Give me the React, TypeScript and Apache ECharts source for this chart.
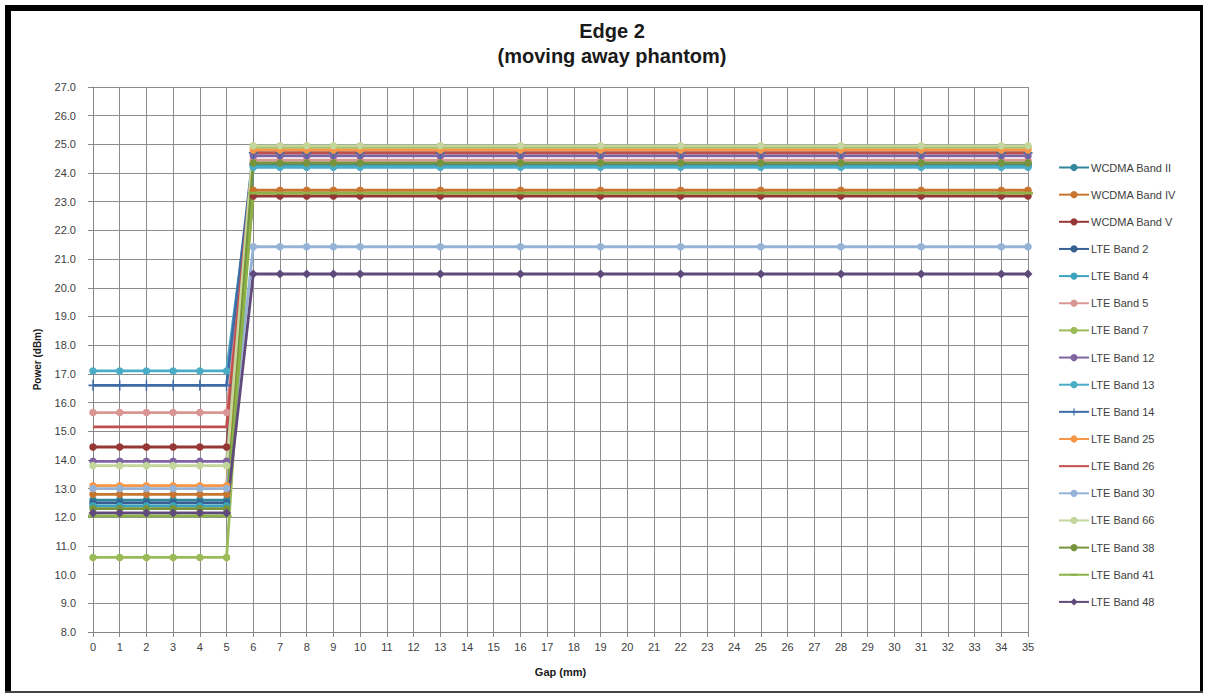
import React, { useEffect, useRef } from "react";
import * as echarts from "echarts";

const gaps = [0, 1, 2, 3, 4, 5, 6, 7, 8, 9, 10, 13, 16, 19, 22, 25, 28, 31, 34, 35];
const yTicks = { min: 8, max: 27, step: 1 };

const wcdmaII = [12.6, 12.6, 12.6, 12.6, 12.6, 12.6, 24.3, 24.3, 24.3, 24.3, 24.3, 24.3, 24.3, 24.3, 24.3, 24.3, 24.3, 24.3, 24.3, 24.3];
const wcdmaIV = [12.8, 12.8, 12.8, 12.8, 12.8, 12.8, 23.4, 23.4, 23.4, 23.4, 23.4, 23.4, 23.4, 23.4, 23.4, 23.4, 23.4, 23.4, 23.4, 23.4];
const wcdmaV = [14.45, 14.45, 14.45, 14.45, 14.45, 14.45, 23.2, 23.2, 23.2, 23.2, 23.2, 23.2, 23.2, 23.2, 23.2, 23.2, 23.2, 23.2, 23.2, 23.2];
const lte2 = [12.5, 12.5, 12.5, 12.5, 12.5, 12.5, 24.3, 24.3, 24.3, 24.3, 24.3, 24.3, 24.3, 24.3, 24.3, 24.3, 24.3, 24.3, 24.3, 24.3];
const lte4 = [12.4, 12.4, 12.4, 12.4, 12.4, 12.4, 24.25, 24.25, 24.25, 24.25, 24.25, 24.25, 24.25, 24.25, 24.25, 24.25, 24.25, 24.25, 24.25, 24.25];
const lte5 = [15.65, 15.65, 15.65, 15.65, 15.65, 15.65, 24.45, 24.45, 24.45, 24.45, 24.45, 24.45, 24.45, 24.45, 24.45, 24.45, 24.45, 24.45, 24.45, 24.45];
const lte7 = [10.6, 10.6, 10.6, 10.6, 10.6, 10.6, 24.9, 24.9, 24.9, 24.9, 24.9, 24.9, 24.9, 24.9, 24.9, 24.9, 24.9, 24.9, 24.9, 24.9];
const lte12 = [13.95, 13.95, 13.95, 13.95, 13.95, 13.95, 24.6, 24.6, 24.6, 24.6, 24.6, 24.6, 24.6, 24.6, 24.6, 24.6, 24.6, 24.6, 24.6, 24.6];
const lte13 = [17.1, 17.1, 17.1, 17.1, 17.1, 17.1, 24.2, 24.2, 24.2, 24.2, 24.2, 24.2, 24.2, 24.2, 24.2, 24.2, 24.2, 24.2, 24.2, 24.2];
const lte14 = [16.6, 16.6, 16.6, 16.6, 16.6, 16.6, 24.7, 24.7, 24.7, 24.7, 24.7, 24.7, 24.7, 24.7, 24.7, 24.7, 24.7, 24.7, 24.7, 24.7];
const lte25 = [13.1, 13.1, 13.1, 13.1, 13.1, 13.1, 24.8, 24.8, 24.8, 24.8, 24.8, 24.8, 24.8, 24.8, 24.8, 24.8, 24.8, 24.8, 24.8, 24.8];
const lte26 = [15.15, 15.15, 15.15, 15.15, 15.15, 15.15, 24.7, 24.7, 24.7, 24.7, 24.7, 24.7, 24.7, 24.7, 24.7, 24.7, 24.7, 24.7, 24.7, 24.7];
const lte30 = [13.0, 13.0, 13.0, 13.0, 13.0, 13.0, 21.43, 21.43, 21.43, 21.43, 21.43, 21.43, 21.43, 21.43, 21.43, 21.43, 21.43, 21.43, 21.43, 21.43];
const lte66 = [13.8, 13.8, 13.8, 13.8, 13.8, 13.8, 24.95, 24.95, 24.95, 24.95, 24.95, 24.95, 24.95, 24.95, 24.95, 24.95, 24.95, 24.95, 24.95, 24.95];
const lte38 = [12.3, 12.3, 12.3, 12.3, 12.3, 12.3, 24.35, 24.35, 24.35, 24.35, 24.35, 24.35, 24.35, 24.35, 24.35, 24.35, 24.35, 24.35, 24.35, 24.35];
const lte41 = [12.05, 12.05, 12.05, 12.05, 12.05, 12.05, 23.3, 23.3, 23.3, 23.3, 23.3, 23.3, 23.3, 23.3, 23.3, 23.3, 23.3, 23.3, 23.3, 23.3];
const lte48 = [12.15, 12.15, 12.15, 12.15, 12.15, 12.15, 20.48, 20.48, 20.48, 20.48, 20.48, 20.48, 20.48, 20.48, 20.48, 20.48, 20.48, 20.48, 20.48, 20.48];

const seriesNames = [
  "WCDMA Band II", "WCDMA Band IV", "WCDMA Band V", "LTE Band 2", "LTE Band 4", "LTE Band 5",
  "LTE Band 7", "LTE Band 12", "LTE Band 13", "LTE Band 14", "LTE Band 25", "LTE Band 26",
  "LTE Band 30", "LTE Band 66", "LTE Band 38", "LTE Band 41", "LTE Band 48",
];
const seriesValues = [wcdmaII, wcdmaIV, wcdmaV, lte2, lte4, lte5, lte7, lte12, lte13, lte14, lte25, lte26, lte30, lte66, lte38, lte41, lte48];
const seriesColors = [
  "#31859C", "#C8762F", "#953735", "#376092", "#3AA3BE", "#D99694",
  "#9BBB59", "#8064A2", "#4BACC6", "#3F6CA6", "#F79646", "#C0504D",
  "#95B3D7", "#C3D69B", "#77933C", "#8DB247", "#604A7B",
];
const PLUS = "path://M4.2,0H5.8V4.2H10V5.8H5.8V10H4.2V5.8H0V4.2H4.2Z";
const DASH = "path://M0,3.6H10V6.4H0Z M0,0H0.01V0.01H0Z M9.99,9.99H10V10H9.99Z";
const seriesSymbols = [
  "circle", "circle", "circle", "circle", "circle", "circle",
  "circle", "circle", "circle", PLUS, "circle", "none",
  "circle", "circle", "circle", DASH, "diamond",
];

export default function App() {
  const ref = useRef<HTMLDivElement>(null);
  useEffect(() => {
    if (!ref.current) return;
    const chart = echarts.init(ref.current, null, { renderer: "svg" });
    const font = "'Liberation Sans', Arial, sans-serif";
    const series = seriesNames.map((name, i) => {
      const sym = seriesSymbols[i];
      let size: any = 7.5;
      if (sym === PLUS) size = [9, 11];
      if (sym === DASH) size = 10;
      if (sym === "diamond") size = 9;
      return {
        name,
        type: "line",
        data: gaps.map((g, j) => [g, seriesValues[i][j]]),
        symbol: sym,
        symbolSize: size,
        showSymbol: sym !== "none",
        lineStyle: { width: 2.8, color: seriesColors[i] },
        itemStyle: { color: seriesColors[i] },
        emphasis: { disabled: true },
      };
    });
    const legendData = seriesNames.map((name, i) =>
      seriesSymbols[i] === "none" ? { name, itemStyle: { color: "rgba(0,0,0,0)" } } : { name }
    );
    chart.setOption({
      animation: false,
      backgroundColor: "#ffffff",
      color: seriesColors,
      title: {
        text: "Edge 2\n(moving away phantom)",
        left: 607,
        textAlign: "center",
        top: 13,
        textStyle: { fontFamily: font, fontSize: 20, fontWeight: "bold", color: "#1a1a1a", lineHeight: 25 },
      },
      legend: {
        orient: "vertical",
        left: 1058,
        top: 162,
        padding: 0,
        itemGap: 16.15,
        itemWidth: 30,
        itemHeight: 9,
        textStyle: { fontFamily: font, fontSize: 11, color: "#404040", padding: [0, 0, 0, -3] },
        data: legendData,
      },
      grid: { left: 93, right: 178, top: 87, bottom: 65 },
      xAxis: {
        type: "value",
        min: 0,
        max: 35,
        interval: 1,
        name: "Gap (mm)",
        nameLocation: "middle",
        nameGap: 34,
        nameTextStyle: { fontFamily: font, fontSize: 11, fontWeight: "bold", color: "#1a1a1a" },
        axisLine: { show: true, lineStyle: { color: "#868686", width: 1 } },
        axisTick: { show: true, length: 5, lineStyle: { color: "#868686" } },
        axisLabel: { fontFamily: font, fontSize: 11, color: "#404040", margin: 9 },
        splitLine: { show: true, lineStyle: { color: "#8c8c8c", width: 1 } },
      },
      yAxis: {
        type: "value",
        min: yTicks.min,
        max: yTicks.max,
        interval: yTicks.step,
        name: "Power (dBm)",
        nameLocation: "middle",
        nameGap: 51,
        nameRotate: 90,
        nameTextStyle: { fontFamily: font, fontSize: 10, fontWeight: "bold", color: "#1a1a1a" },
        axisLine: { show: true, lineStyle: { color: "#868686", width: 1 } },
        axisTick: { show: true, length: 5, lineStyle: { color: "#868686" } },
        axisLabel: { fontFamily: font, fontSize: 11, color: "#404040", margin: 17, formatter: (v: number) => v.toFixed(1) },
        splitLine: { show: true, lineStyle: { color: "#8c8c8c", width: 1 } },
      },
      graphic: [
        { type: "rect", shape: { x: 5, y: 5, width: 6, height: 688 }, style: { fill: "#000" } },
        { type: "rect", shape: { x: 5, y: 5, width: 1198, height: 6 }, style: { fill: "#000" } },
        { type: "rect", shape: { x: 1200, y: 5, width: 3, height: 688 }, style: { fill: "#000" } },
        { type: "rect", shape: { x: 5, y: 691, width: 1198, height: 2 }, style: { fill: "#444" } },
      ],
      series,
    });
    return () => chart.dispose();
  }, []);
  return <div ref={ref} style={{ position: "fixed", left: 0, top: 0, width: 1206, height: 697 }} />;
}
